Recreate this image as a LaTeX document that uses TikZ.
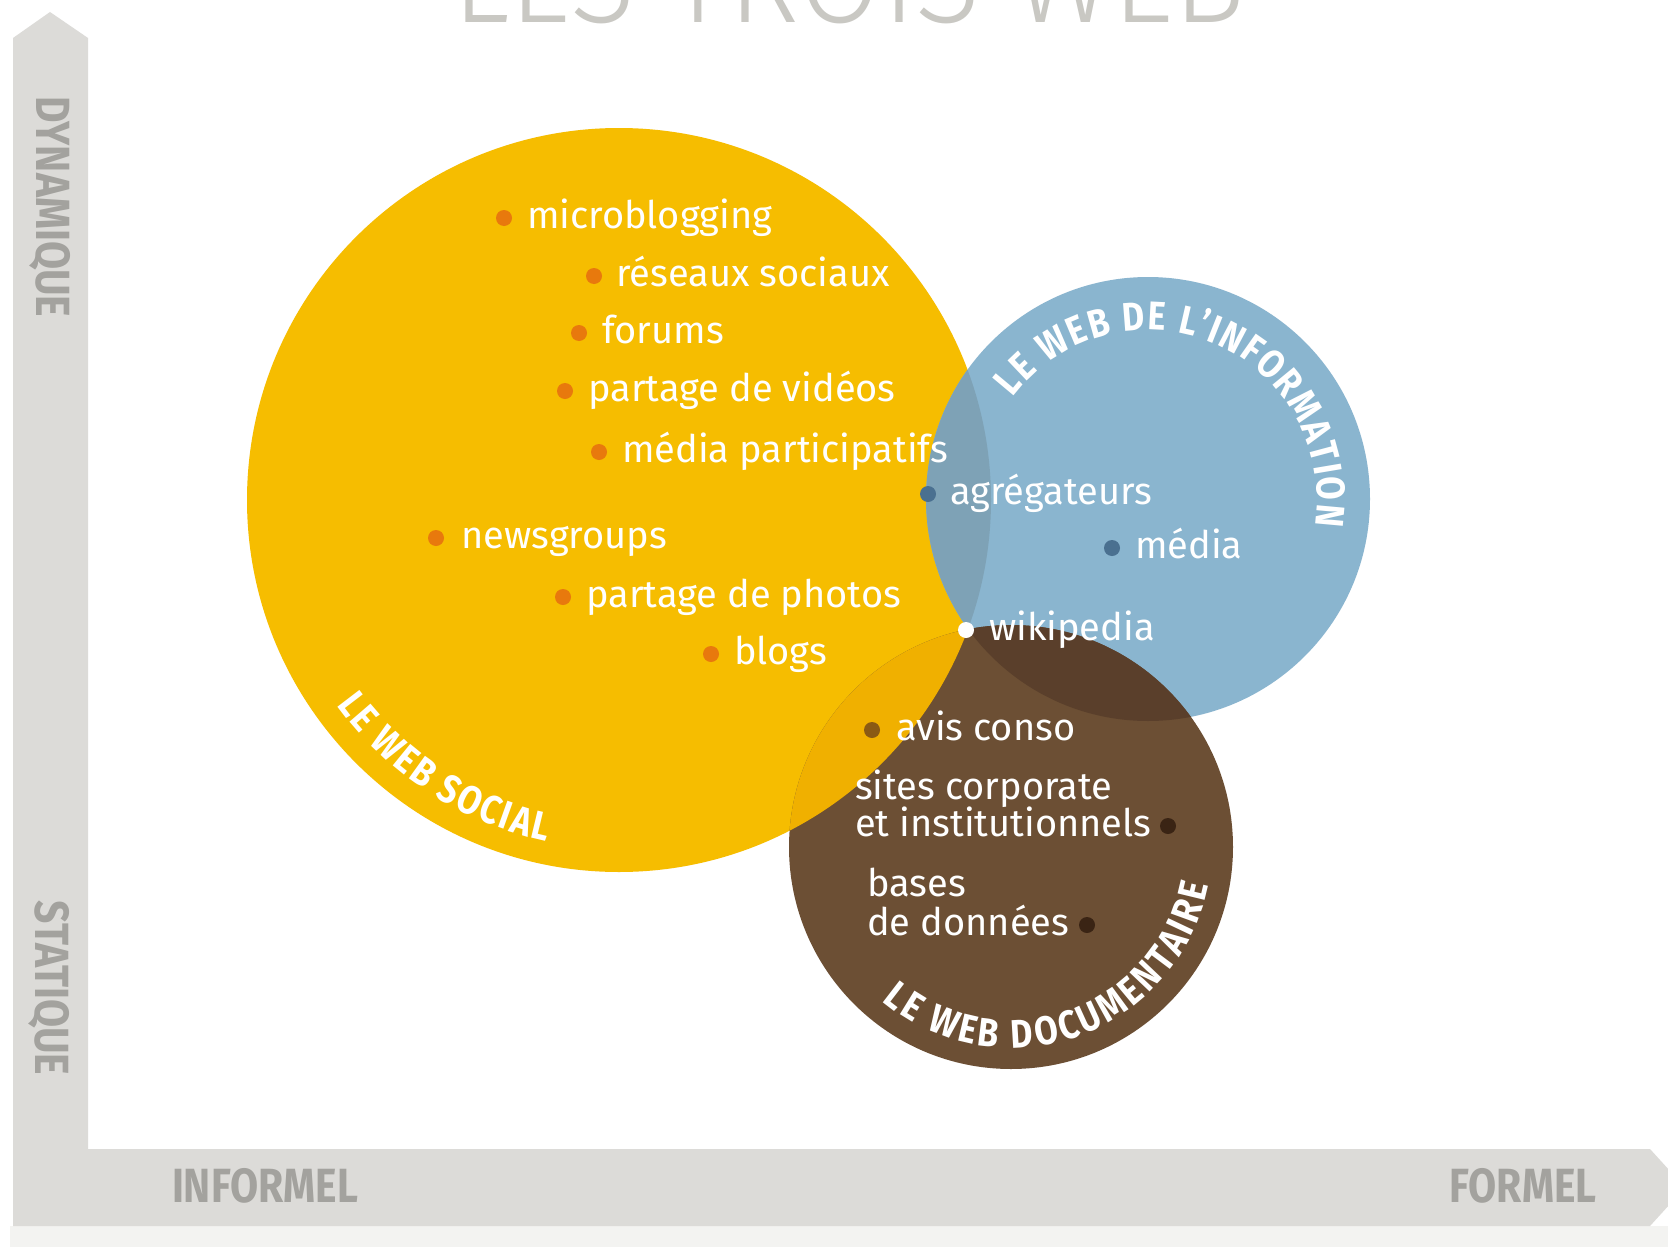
\documentclass[tikz,border=0pt]{standalone}
\usepackage{fontspec}
\setmainfont{Fira Sans}
\newfontfamily\itemfont{Fira Sans}
\newfontfamily\lblfont{Fira Sans}[FakeStretch=0.85]
\newfontfamily\titlefont{Fira Sans Light}
\usetikzlibrary{calc,decorations.text}
\definecolor{cyellow}{HTML}{F6BD00}
\definecolor{cblue}{HTML}{8AB5CF}
\definecolor{cbrown}{HTML}{6C4F34}
\definecolor{cYB}{HTML}{7EA2B6}
\definecolor{cBBr}{HTML}{5A3F2B}
\definecolor{cYBr}{HTML}{F0B000}
\definecolor{dorange}{HTML}{E8790D}
\definecolor{dblue}{HTML}{4A7090}
\definecolor{davis}{HTML}{8A5A14}
\definecolor{dbrown}{HTML}{3A2414}
\definecolor{cbar}{HTML}{DCDBD8}
\definecolor{caxis}{HTML}{A3A29E}
\definecolor{cstrip}{HTML}{F3F3F1}
\definecolor{ctitle}{HTML}{C9C8C3}
\tikzset{
  item/.style={font=\itemfont\fontsize{38}{38}\selectfont, text=white, anchor=base west, inner sep=0pt},
  dot/.style={circle, inner sep=0pt, minimum size=16pt},
  axislbl/.style={font=\lblfont\bfseries\fontsize{48}{48}\selectfont, text=caxis, inner sep=0pt},
  circlbl/.style={decorate, decoration={text along path,
    text={|\lblfont\bfseries\fontsize{40}{40}\selectfont\color{white}|#1},
    text align=fit to path}},
}
\begin{document}
\begin{tikzpicture}[x=1pt,y=1pt]
\clip (0,0) rectangle (1668,-1247);
\fill[white] (0,0) rectangle (1668,-1247);
% axes
\fill[cstrip] (10,-1226) rectangle (1668,-1247);
\fill[cbar] (13,-1226) -- (13,-38) -- (50,-12) -- (88,-38) -- (88,-1149)
  -- (1650,-1149) -- (1685,-1187.5) -- (1650,-1226) -- cycle;
\node[axislbl, rotate=-90] (dyn) at (50,-207) {DYNAMIQUE};
\node[axislbl, rotate=-90] (stat) at (49,-988) {STATIQUE};
\node[axislbl] (inf) at (265,-1186) {INFORMEL};
\node[axislbl] (form) at (1523,-1186) {FORMEL};
% title
\node[anchor=base west, inner sep=0pt, text=ctitle] (title) at (452,-23)
  {\resizebox{793pt}{90pt}{\titlefont LES TROIS WEB}};
% circles
\coordinate (Y) at (619,-500);
\coordinate (B) at (1148,-499);
\coordinate (Br) at (1011,-847);
\fill[cyellow] (Y) circle[radius=372];
\fill[cblue] (B) circle[radius=222];
\fill[cbrown] (Br) circle[radius=222];
\begin{scope}
  \clip (Y) circle[radius=372];
  \fill[cYB] (B) circle[radius=222];
\end{scope}
\begin{scope}
  \clip (B) circle[radius=222];
  \fill[cBBr] (Br) circle[radius=222];
\end{scope}
\begin{scope}
  \clip (Y) circle[radius=372];
  \fill[cYBr] (Br) circle[radius=222];
\end{scope}
% circle titles
\path[circlbl={LE WEB SOCIAL}]
  ($(Y)+(216:349)$) arc[start angle=216, end angle=258, radius=349];
\path[circlbl={LE WEB DE L’INFORMATION}]
  ($(B)+(143:169)$) arc[start angle=143, end angle=-9, radius=169];
\path[circlbl={LE WEB DOCUMENTAIRE}]
  ($(Br)+(230:201)$) arc[start angle=230, end angle=349, radius=201];
% yellow items
\node[dot, fill=dorange] (d1) at (504,-218) {};
\node[item] (t1) at (527,-228) {microblogging};
\node[dot, fill=dorange] (d2) at (594,-276) {};
\node[item] (t2) at (616,-286) {réseaux sociaux};
\node[dot, fill=dorange] (d3) at (579,-333) {};
\node[item] (t3) at (602,-343) {forums};
\node[dot, fill=dorange] (d4) at (565,-391) {};
\node[item] (t4) at (588,-401) {partage de vidéos};
\node[dot, fill=dorange] (d5) at (599,-452) {};
\node[item] (t5) at (622,-462) {média participatifs};
\node[dot, fill=dorange] (d6) at (436,-538) {};
\node[item] (t6) at (461,-548) {newsgroups};
\node[dot, fill=dorange] (d7) at (563,-597) {};
\node[item] (t7) at (586,-607) {partage de photos};
\node[dot, fill=dorange] (d8) at (711,-654) {};
\node[item] (t8) at (734,-664) {blogs};
% blue items
\node[dot, fill=dblue] (d9) at (928,-494) {};
\node[item] (t9) at (950,-504) {agrégateurs};
\node[dot, fill=dblue] (d10) at (1112,-548) {};
\node[item] (t10) at (1135,-558) {média};
\node[dot, fill=white] (d11) at (966,-630) {};
\node[item] (t11) at (989,-640) {wikipedia};
% brown items
\node[dot, fill=davis] (d12) at (872,-730) {};
\node[item] (t12) at (896,-740) {avis conso};
\node[item] (t13a) at (855,-799) {sites corporate};
\node[item] (t13b) at (855,-836) {et institutionnels};
\node[dot, fill=dbrown] (d13) at (1168,-826) {};
\node[item] (t14a) at (867,-896) {bases};
\node[item] (t14b) at (867,-935) {de données};
\node[dot, fill=dbrown] (d14) at (1087,-925) {};
\end{tikzpicture}
\end{document}
